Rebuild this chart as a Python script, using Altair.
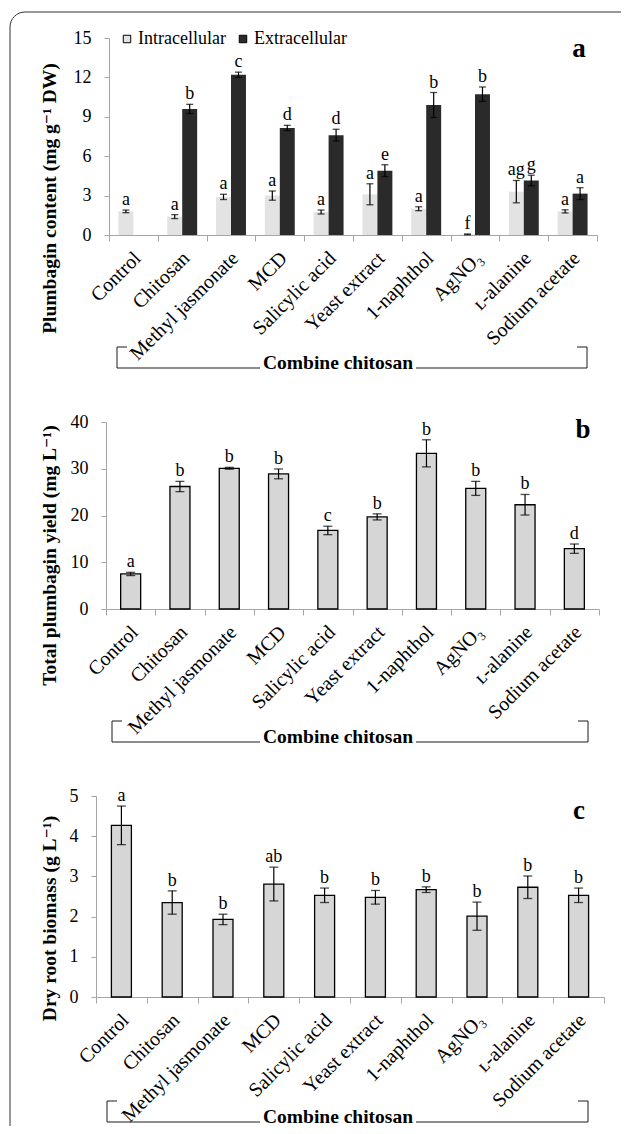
import altair as alt
import pandas as pd

categories = ["Control", "Chitosan", "Methyl jasmonate", "MCD", "Salicylic acid",
              "Yeast extract", "1-naphthol", "AgNO₃", "ʟ-alanine", "Sodium acetate"]
groups = ["Intracellular", "Extracellular"]

# Panel a: plumbagin content (mg g-1 DW)
intra = [1.80, 1.40, 2.90, 3.00, 1.75, 3.10, 2.00, 0.05, 3.30, 1.80]
intra_err = [0.10, 0.15, 0.20, 0.35, 0.15, 0.80, 0.15, 0.03, 0.85, 0.12]
intra_lbl = ["a", "a", "a", "a", "a", "a", "a", "f", "ag", "a"]
extra = [None, 9.60, 12.20, 8.15, 7.60, 4.90, 9.90, 10.72, 4.15, 3.15]
extra_err = [None, 0.35, 0.20, 0.20, 0.45, 0.45, 0.95, 0.55, 0.40, 0.45]
extra_lbl = ["", "b", "c", "d", "d", "e", "b", "b", "g", "a"]

# Panel b: total plumbagin yield (mg L-1)
yield_vals = [7.5, 26.2, 30.1, 28.9, 16.8, 19.7, 33.3, 25.8, 22.3, 12.9]
yield_err = [0.35, 1.1, 0.2, 1.05, 0.9, 0.65, 2.9, 1.5, 2.2, 1.0]
yield_lbl = ["a", "b", "b", "b", "c", "b", "b", "b", "b", "d"]

# Panel c: dry root biomass (g L-1)
biomass = [4.27, 2.35, 1.93, 2.81, 2.53, 2.48, 2.67, 2.01, 2.73, 2.53]
biomass_err = [0.48, 0.29, 0.13, 0.42, 0.18, 0.17, 0.07, 0.35, 0.28, 0.18]
biomass_lbl = ["a", "b", "b", "ab", "b", "b", "b", "b", "b", "b"]

SERIF = "Liberation Serif, Times New Roman, DejaVu Serif, serif"
GRAY = "#a6a6a6"
INK = "#1a1a1a"

rows = []
for i, c in enumerate(categories):
    rows.append(dict(cat=c, type="Intracellular", val=intra[i], lo=intra[i] - intra_err[i],
                     hi=intra[i] + intra_err[i], lbl=intra_lbl[i]))
    if extra[i] is not None:
        rows.append(dict(cat=c, type="Extracellular", val=extra[i], lo=extra[i] - extra_err[i],
                         hi=extra[i] + extra_err[i], lbl=extra_lbl[i]))
df_a = pd.DataFrame(rows)
df_b = pd.DataFrame(dict(cat=categories, val=yield_vals,
                         lo=[v - e for v, e in zip(yield_vals, yield_err)],
                         hi=[v + e for v, e in zip(yield_vals, yield_err)], lbl=yield_lbl))
df_c = pd.DataFrame(dict(cat=categories, val=biomass,
                         lo=[v - e for v, e in zip(biomass, biomass_err)],
                         hi=[v + e for v, e in zip(biomass, biomass_err)], lbl=biomass_lbl))
one = pd.DataFrame({"k": [0]})


def x_enc(rng):
    return alt.X("cat:N", sort=categories,
                 scale=alt.Scale(domain=categories, range=rng, paddingInner=0, paddingOuter=0),
                 axis=alt.Axis(title=None, labelAngle=-45, labelAlign="right", labelBaseline="alphabetic",
                               labelFont=SERIF, labelFontSize=20, labelColor="black",
                               labelPadding=18, labelOffset=8, labelOverlap=False, labelLimit=400,
                               tickBand="extent", tickColor=GRAY, tickSize=6, domainColor=GRAY,
                               grid=False))


def y_enc(field, domain, values, title, offset, tx, ty):
    return alt.Y(field, scale=alt.Scale(domain=domain, nice=False, zero=True),
                 axis=alt.Axis(values=values, tickCount=len(values) + 1, title=title, offset=offset,
                               grid=False, domainColor=GRAY, tickColor=GRAY, tickSize=5,
                               labelPadding=13, labelOverlap=False, labelFlush=False,
                               labelFont=SERIF, labelFontSize=18, labelColor="black",
                               titleFont=SERIF, titleFontSize=19.5, titleFontWeight="bold",
                               titleColor="black", titleX=tx, titleY=ty,
                               titleBaseline="alphabetic", titleAlign="center"))


def bracket(h, left, right, shift=0, center=242, half=78):
    top = h + 112 - shift
    bot = h + 133 - shift
    segs = [(left, left, top, bot), (left, left + 10, top, top),
            (right, right, top, bot), (right - 10, right, top, top),
            (left, center - half, bot, bot), (center + half, right, bot, bot)]
    layers = [alt.Chart(one).mark_rule(color=INK, strokeWidth=1).encode(
        x=alt.value(a), x2=alt.value(b), y=alt.value(c), y2=alt.value(d)) for a, b, c, d in segs]
    layers.append(alt.Chart(one).mark_text(text="Combine chitosan", font=SERIF, fontSize=19.5,
                                           fontWeight="bold", align="center", baseline="alphabetic",
                                           color="black").encode(x=alt.value(center), y=alt.value(bot + 1)))
    return layers


def letter(ch, x, y):
    return alt.Chart(one).mark_text(text=ch, font=SERIF, fontSize=27, fontWeight="bold",
                                    align="center", baseline="alphabetic", color="black").encode(
        x=alt.value(x), y=alt.value(y))


# outer rounded frame (decoration, clipped by the page edge)
frame = alt.Chart(one).mark_rect(fill=None, stroke="#333333", strokeWidth=1, cornerRadius=15).encode(
    x=alt.value(-86), x2=alt.value(700), y=alt.value(-26), y2=alt.value(1300))

# ---------- panel a ----------
HA, WA = 197, 501
xa = x_enc([13, 501])
xoff = alt.XOffset("type:N", sort=groups,
                   scale=alt.Scale(domain=groups, paddingOuter=0.63, paddingInner=0))
ya = y_enc("val:Q", [0, 15], [0, 3, 6, 9, 12, 15], "Plumbagin content (mg g⁻¹ DW)", -13, -54, 160)
base_a = alt.Chart(df_a).encode(x=xa, xOffset=xoff)
bars_a = base_a.mark_bar().encode(
    y=ya,
    color=alt.Color("type:N", sort=groups,
                    scale=alt.Scale(domain=groups, range=["#e3e3e3", "#2a2a2a"]),
                    legend=alt.Legend(title=None, orient="none", legendX=22, legendY=-8,
                                      direction="horizontal", symbolType="square", symbolSize=56,
                                      symbolStrokeColor="black", symbolStrokeWidth=1,
                                      labelFont=SERIF, labelFontSize=18, labelColor="black",
                                      labelOffset=2, columnPadding=8, padding=0)))
err_a = base_a.mark_rule(color="black", strokeWidth=1.2).encode(y="lo:Q", y2="hi:Q")
caph_a = base_a.mark_tick(color="black", size=7, thickness=1.3).encode(y="hi:Q")
capl_a = base_a.mark_tick(color="black", size=7, thickness=1.3).encode(y="lo:Q")
txt_a = base_a.mark_text(font=SERIF, fontSize=18, baseline="alphabetic", dy=-5, color="black").encode(
    y="hi:Q", text="lbl:N")
panel_a = alt.layer(bars_a, err_a, caph_a, capl_a, txt_a, letter("a", 483, 19),
                    *bracket(HA, 21, 491), frame).properties(width=WA, height=HA)

# ---------- panel b ----------
HB, WB = 187, 503
xb = x_enc([10, 503])
base_b = alt.Chart(df_b).encode(x=xb)
bars_b = base_b.mark_bar(width=20, color="#d6d6d6", stroke="black", strokeWidth=1.3).encode(
    y=y_enc("val:Q", [0, 40], [0, 10, 20, 30, 40], "Total plumbagin yield (mg L⁻¹)", -10, -51, 133))
err_b = base_b.mark_rule(color="black", strokeWidth=1.2).encode(y="lo:Q", y2="hi:Q")
caph_b = base_b.mark_tick(color="black", size=9, thickness=1.3).encode(y="hi:Q")
capl_b = base_b.mark_tick(color="black", size=9, thickness=1.3).encode(y="lo:Q")
txt_b = base_b.mark_text(font=SERIF, fontSize=18, baseline="alphabetic", dy=-5, color="black").encode(
    y="hi:Q", text="lbl:N")
panel_b = alt.layer(bars_b, err_b, caph_b, capl_b, txt_b, letter("b", 487, 16),
                    *bracket(HB, 16, 492)).properties(width=WB, height=HB)

# ---------- panel c ----------
HC, WC = 201, 508
xc = x_enc([0, 508])
base_c = alt.Chart(df_c).encode(x=xc)
bars_c = base_c.mark_bar(width=20, color="#d6d6d6", stroke="black", strokeWidth=1.3).encode(
    y=y_enc("val:Q", [0, 5], [0, 1, 2, 3, 4, 5], "Dry root biomass (g L⁻¹)", 0, -41, 122))
err_c = base_c.mark_rule(color="black", strokeWidth=1.2).encode(y="lo:Q", y2="hi:Q")
caph_c = base_c.mark_tick(color="black", size=9, thickness=1.3).encode(y="hi:Q")
capl_c = base_c.mark_tick(color="black", size=9, thickness=1.3).encode(y="lo:Q")
txt_c = base_c.mark_text(font=SERIF, fontSize=18, baseline="alphabetic", dy=-5, color="black").encode(
    y="hi:Q", text="lbl:N")
panel_c = alt.layer(bars_c, err_c, caph_c, capl_c, txt_c, letter("c", 483, 23),
                    *bracket(HC, 11, 492, shift=8)).properties(width=WC, height=HC)

chart = alt.vconcat(panel_a, panel_b, panel_c, spacing=187, bounds="flush").properties(
    autosize=alt.AutoSizeParams(type="none"),
    padding={"left": 88, "top": 30, "right": 525, "bottom": 1088},
    background="white",
).configure_view(stroke=None).configure_axis(labelOverlap=False)

chart.save("out.html", embed_options={"renderer": "svg", "actions": False})
